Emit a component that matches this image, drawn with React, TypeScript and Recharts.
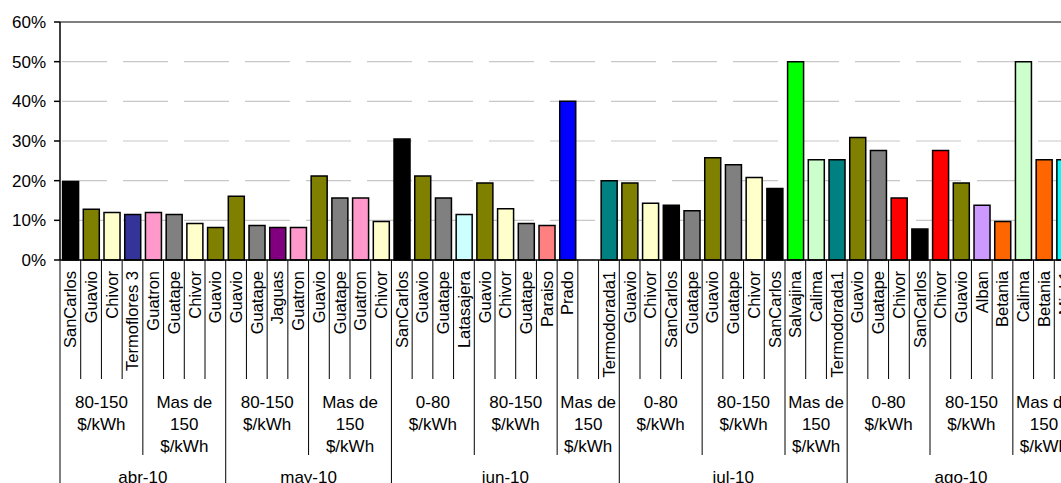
import { Bar, BarChart, CartesianGrid, Cell, ReferenceLine, XAxis, YAxis } from "recharts";

const FONT = '"Liberation Sans", Arial, sans-serif';

// plants, one per bar, in chart order
const plants = [
  "SanCarlos", "Guavio", "Chivor", "Termoflores 3", "Guatron", "Guatape", "Chivor", "Guavio",
  "Guavio", "Guatape", "Jaguas", "Guatron", "Guavio", "Guatape", "Guatron", "Chivor",
  "SanCarlos", "Guavio", "Guatape", "Latasajera", "Guavio", "Chivor", "Guatape", "Paraiso", "Prado", "", "Termodorada1",
  "Guavio", "Chivor", "SanCarlos", "Guatape", "Guavio", "Guatape", "Chivor", "SanCarlos", "Salvajina", "Calima", "Termodorada1",
  "Guavio", "Guatape", "Chivor", "SanCarlos", "Chivor", "Guavio", "Alban", "Betania", "Calima", "Betania", "Miel 1",
];

const shares = [
  0.198, 0.128, 0.12, 0.115, 0.12, 0.115, 0.092, 0.082,
  0.161, 0.087, 0.082, 0.082, 0.212, 0.156, 0.156, 0.097,
  0.305, 0.212, 0.156, 0.115, 0.194, 0.129, 0.092, 0.087, 0.4, 0, 0.2,
  0.194, 0.143, 0.138, 0.124, 0.258, 0.24, 0.208, 0.18, 0.5, 0.253, 0.253,
  0.309, 0.276, 0.156, 0.078, 0.276, 0.194, 0.138, 0.097, 0.5, 0.253, 0.253,
];

const fills = [
  "#000000", "#808000", "#ffffcc", "#333399", "#ff99cc", "#808080", "#ffffcc", "#808000",
  "#808000", "#808080", "#800080", "#ff99cc", "#808000", "#808080", "#ff99cc", "#ffffcc",
  "#000000", "#808000", "#808080", "#ccffff", "#808000", "#ffffcc", "#808080", "#ff8080", "#0000ff", "#ffffff", "#008080",
  "#808000", "#ffffcc", "#000000", "#808080", "#808000", "#808080", "#ffffcc", "#000000", "#00ff00", "#ccffcc", "#008080",
  "#808000", "#808080", "#ff0000", "#000000", "#ff0000", "#808000", "#cc99ff", "#ff6600", "#ccffcc", "#ff6600", "#00ffff",
];

const bandLabels = [
  "80-150 $/kWh", "Mas de 150 $/kWh",
  "80-150 $/kWh", "Mas de 150 $/kWh",
  "0-80 $/kWh", "80-150 $/kWh", "Mas de 150 $/kWh",
  "0-80 $/kWh", "80-150 $/kWh", "Mas de 150 $/kWh",
  "0-80 $/kWh", "80-150 $/kWh", "Mas de 150 $/kWh",
];
const bandSizes = [4, 4, 4, 4, 4, 4, 3, 4, 4, 3, 4, 4, 3];

const months = ["abr-10", "may-10", "jun-10", "jul-10", "ago-10"];
const monthSizes = [8, 8, 11, 11, 11];

const yTicks = [0, 0.1, 0.2, 0.3, 0.4, 0.5, 0.6];

const data = plants.map((plant, i) => ({ key: String(i), plant, share: shares[i], fill: fills[i] }));

// layout
const W = 1080;
const H = 500;
const MARGIN = { top: 22, right: 5, left: 0, bottom: 0 };
const Y_W = 60;
const X_H = 240;
const PLOT_BOTTOM = H - MARGIN.bottom - X_H;
const BAND = (W - MARGIN.left - MARGIN.right - Y_W) / plants.length;

const starts = (sizes: number[]) => {
  const out: Record<number, number> = {};
  let acc = 0;
  sizes.forEach((s, k) => {
    out[acc] = k;
    acc += s;
  });
  return out;
};
const bandStart = starts(bandSizes);
const monthStart = starts(monthSizes);

const wrap = (s: string, max = 7) => {
  const lines: string[] = [];
  let cur = "";
  s.split(" ").forEach((w) => {
    const next = cur ? cur + " " + w : w;
    if (next.length > max && cur) {
      lines.push(cur);
      cur = w;
    } else cur = next;
  });
  if (cur) lines.push(cur);
  return lines;
};

const CategoryTick = (props: any) => {
  const { x, payload } = props;
  const i = Number(payload.value);
  const left = x - BAND / 2;
  const isMonth = monthStart[i] !== undefined;
  const isBand = bandStart[i] !== undefined;
  const depth = isMonth ? H : isBand ? 455 : 379;
  const last = i === plants.length - 1;

  return (
    <g>
      <line x1={left} x2={left} y1={PLOT_BOTTOM} y2={depth} stroke="#000" strokeWidth={1} />
      {last && <line x1={left + BAND} x2={left + BAND} y1={PLOT_BOTTOM} y2={H} stroke="#000" strokeWidth={1} />}
      <text
        transform={`translate(${x},${PLOT_BOTTOM + 11}) rotate(-90)`}
        textAnchor="end"
        dy="0.36em"
        fontSize={16.5}
        fontFamily={FONT}
        fill="#000"
      >
        {plants[i]}
      </text>
      {isBand && (
        <text
          x={left + (bandSizes[bandStart[i]] * BAND) / 2}
          y={408}
          textAnchor="middle"
          fontSize={17}
          fontFamily={FONT}
          fill="#000"
        >
          {wrap(bandLabels[bandStart[i]]).map((line, k) => (
            <tspan key={k} x={left + (bandSizes[bandStart[i]] * BAND) / 2} dy={k === 0 ? 0 : 22}>
              {line}
            </tspan>
          ))}
        </text>
      )}
      {isMonth && (
        <text
          x={left + (monthSizes[monthStart[i]] * BAND) / 2}
          y={483}
          textAnchor="middle"
          fontSize={17}
          fontFamily={FONT}
          fill="#000"
        >
          {months[monthStart[i]]}
        </text>
      )}
    </g>
  );
};

export default function App() {
  return (
    <div
      style={{
        position: "fixed",
        left: 0,
        top: 0,
        width: 1061,
        height: 483,
        overflow: "hidden",
        background: "#fff",
      }}
    >
      <BarChart width={W} height={H} data={data} margin={MARGIN} barCategoryGap="12.5%">
        <CartesianGrid vertical={false} stroke="#c8c8c8" strokeWidth={1.2} strokeDasharray="0 2 45 14" />
        <ReferenceLine y={0.6} stroke="#808080" strokeWidth={2} />
        <XAxis
          dataKey="key"
          interval={0}
          height={X_H}
          tickLine={false}
          axisLine={{ stroke: "#000", strokeWidth: 1.5 }}
          tick={<CategoryTick />}
        />
        <YAxis
          width={Y_W}
          domain={[0, 0.6]}
          ticks={yTicks}
          interval={0}
          tickSize={6}
          tickMargin={8}
          tickFormatter={(v: number) => `${Math.round(v * 100)}%`}
          axisLine={{ stroke: "#000", strokeWidth: 1.5 }}
          tickLine={{ stroke: "#000", strokeWidth: 1.5 }}
          tick={{ fontSize: 17, fill: "#000", fontFamily: FONT }}
        />
        <Bar dataKey="share" isAnimationActive={false} stroke="#000" strokeWidth={1.5}>
          {data.map((d) => (
            <Cell key={d.key} fill={d.fill} stroke={d.plant ? "#000" : "none"} />
          ))}
        </Bar>
      </BarChart>
    </div>
  );
}
